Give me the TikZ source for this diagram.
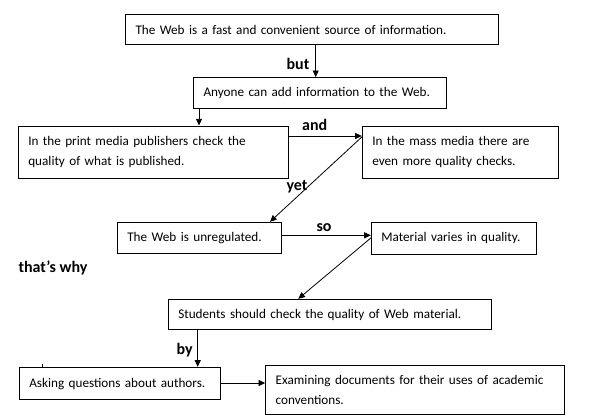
\documentclass[tikz,border=0pt]{standalone}
\usepackage{fontspec}
\setmainfont{Carlito}
\usetikzlibrary{arrows.meta}
\begin{document}
\begin{tikzpicture}[x=0.75pt,y=-0.75pt,
  bx/.style={draw=black, line width=0.75pt, rectangle, inner xsep=7.5pt, inner ysep=0pt,
    align=left, font=\fontsize{9.9pt}{15pt}\selectfont, anchor=center,
    execute at begin node={\hyphenpenalty=10000\exhyphenpenalty=10000\hbadness=10000\hfuzz=50pt}},
  arr/.style={draw=black, line width=0.6pt, -{Triangle[length=5pt,width=4.5pt]}},
  lbl/.style={font=\fontsize{12pt}{13pt}\selectfont\bfseries, inner sep=0pt, anchor=center}]
\useasboundingbox (0,0) rectangle (591,419);
% boxes
\node[bx, text width=265.1pt, minimum height=23.0pt] (b1) at (312.25,29.65)
  {The Web is a fast and convenient source of information.};
\node[bx, text width=174.75pt, minimum height=23.1pt] (b2) at (320,93.1)
  {\mbox{Anyone can add information to the Web.}};
\node[bx, text width=187.8pt, minimum height=39.2pt] (b3) at (153.5,152.15)
  {In the print media publishers check the\\quality of what is published.};
\node[bx, text width=132pt, minimum height=38.85pt] (b4) at (460.3,152.4)
  {In the mass media there are\\even more quality checks.};
\node[bx, text width=108.3pt, minimum height=23.4pt] (b5) at (199.5,237.9)
  {\mbox{The Web is unregulated.}};
\node[bx, text width=108.75pt, minimum height=24pt] (b6) at (453.8,238.3)
  {\mbox{Material varies in quality.}};
\node[bx, text width=227.55pt, minimum height=23pt] (b7) at (330,314.65)
  {\mbox{Students should check the quality of Web material.}};
\node[bx, text width=135.75pt, minimum height=24.5pt] (b8) at (119.8,383.65)
  {\mbox{Asking questions about authors.}};
\node[bx, text width=208.95pt, minimum height=36.45pt] (b9) at (415,390)
  {Examining documents for their uses of academic\\conventions.};
% connectors
\draw[arr] (b1.south -| 315.7,0) -- (b2.north -| 315.7,0);
\draw[arr] (b2.south -| 199,0) -- (b3.north -| 199,0);
\draw[arr] (b3.east |- 0,136) -- (b4.west |- 0,136);
\draw[arr] (b4.west |- 0,137) -- (b5.north -| 270,0);
\draw[arr] (b5.east |- 0,235.3) -- (b6.west |- 0,235.3);
\draw[arr] (b6.west |- 0,238) -- (b7.north -| 298.3,0);
\draw[arr] (b7.south -| 197.7,0) -- (b8.north -| 197.7,0);
\draw[arr] (b8.east |- 0,383) -- (b9.west |- 0,383);
% labels
\node[lbl] (lbut) at (298,63.5) {but};
\node[lbl] (land) at (314.7,125) {and};
\node[lbl] (lyet) at (297,186.5) {yet};
\node[lbl] (lso) at (324,228) {so};
\node[lbl] (lwhy) at (53,268) {that’s why};
\node[lbl] (lby) at (184.7,350) {by};
% small tick
\coordinate (t1) at (42.3,364);
\coordinate (t2) at (42.3,367.3);
\draw[line width=0.6pt] (t1) -- (t2);
\end{tikzpicture}
\end{document}
